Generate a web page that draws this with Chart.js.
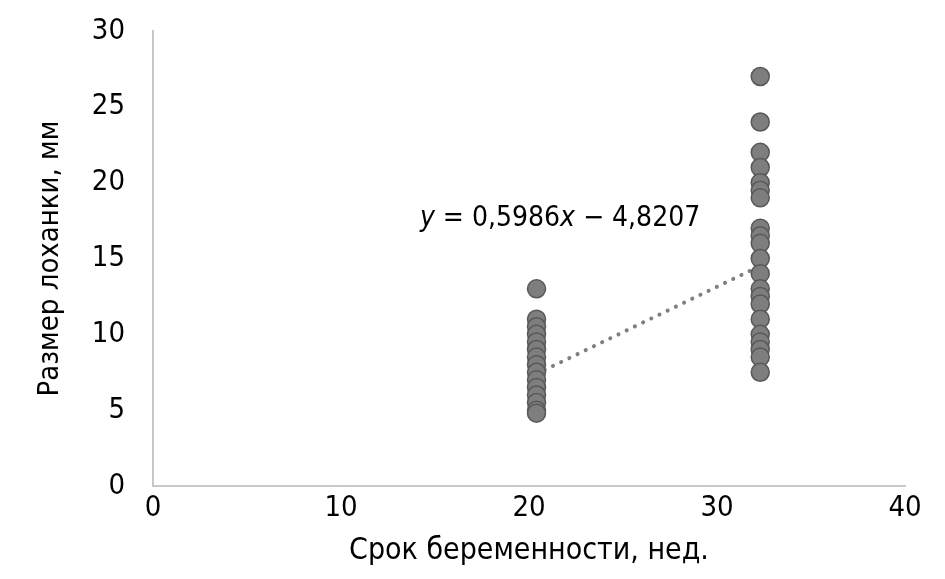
<!DOCTYPE html>
<html>
<head>
<meta charset="utf-8">
<script src="https://cdn.jsdelivr.net/npm/chart.js@4/dist/chart.umd.min.js"></script>
<style>
html,body{margin:0;padding:0;background:#fff;}
#wrap{width:945px;height:579px;position:relative;}
</style>
</head>
<body>
<div id="wrap"><canvas id="c" width="945" height="579"></canvas></div>
<script>
// Data
const weekGroupA = 20.4;
const sizesA = [13, 11, 10.5, 10, 9.5, 9, 8.5, 8, 7.5, 7, 6.5, 6, 5.5, 5, 4.8];
const weekGroupB = 32.3;
const sizesB = [27, 24, 22, 21, 20, 19.5, 19, 17, 16.5, 16, 15, 14, 13, 12.5, 12, 11, 10, 9.5, 9, 8.5, 7.5];
const trendSlope = 0.5986;
const trendIntercept = -4.8207;
const equationText = ['y', ' = 0,5986', 'x', ' \u2212 4,8207'];
const xTitle = 'Срок беременности, нед.';
const yTitle = 'Размер лоханки, мм';
const xTicks = [0, 10, 20, 30, 40];
const yTicks = [0, 5, 10, 15, 20, 25, 30];

const FONT = "'DejaVu Sans Condensed', 'Liberation Sans Narrow', sans-serif";

const points = sizesA.map(v => ({x: weekGroupA, y: v})).concat(sizesB.map(v => ({x: weekGroupB, y: v})));
const xs = points.map(p => p.x);
const xMin = Math.min(...xs), xMax = Math.max(...xs);
const trend = [{x: xMin, y: trendSlope * xMin + trendIntercept}, {x: xMax, y: trendSlope * xMax + trendIntercept}];

const eqPlugin = {
  id: 'eq',
  afterDatasetsDraw(chart) {
    const ctx = chart.ctx;
    const xs = chart.scales.x, ys = chart.scales.y;
    let x = xs.getPixelForValue(14.2);
    const y = ys.getPixelForValue(17.65);
    ctx.save();
    ctx.fillStyle = '#000';
    ctx.textBaseline = 'middle';
    ctx.textAlign = 'left';
    equationText.forEach((seg, i) => {
      ctx.font = (i % 2 === 0 ? 'italic ' : '') + '28px ' + FONT;
      ctx.fillText(seg, x, y);
      x += ctx.measureText(seg).width;
    });
    ctx.restore();
  }
};

new Chart(document.getElementById('c'), {
  type: 'scatter',
  data: {
    datasets: [
      {
        label: 'points',
        data: points,
        backgroundColor: '#7e7e7e',
        borderColor: '#585858',
        borderWidth: 1.5,
        pointRadius: 9,
        order: 0
      },
      {
        label: 'trend',
        type: 'line',
        data: trend,
        borderColor: '#7f7f7f',
        borderWidth: 4,
        borderDash: [0.1, 9],
        borderCapStyle: 'round',
        pointRadius: 0,
        fill: false,
        order: 1
      }
    ]
  },
  options: {
    responsive: false,
    animation: false,
    layout: {padding: {left: 0, right: 40, top: 31, bottom: 0}},
    plugins: {legend: {display: false}, tooltip: {enabled: false}},
    scales: {
      x: {
        type: 'linear',
        min: 0, max: 40,
        afterBuildTicks(s) { s.ticks = xTicks.map(v => ({value: v})); },
        afterFit(s) { s.height = 93; s.paddingLeft = 0; s.paddingRight = 0; },
        grid: {display: false},
        border: {display: true, color: '#c8c8c8', width: 2},
        ticks: {color: '#000', font: {family: FONT, size: 29}, padding: -3, maxRotation: 0},
        title: {display: true, text: xTitle, color: '#000', font: {family: FONT, size: 30}, padding: {top: 0, bottom: 10}}
      },
      y: {
        type: 'linear',
        min: 0, max: 30,
        afterBuildTicks(s) { s.ticks = yTicks.map(v => ({value: v})); },
        afterFit(s) { s.width = 153; s.paddingTop = 0; s.paddingBottom = 0; },
        grid: {display: false},
        border: {display: true, color: '#c8c8c8', width: 2},
        ticks: {color: '#000', font: {family: FONT, size: 29}, padding: 20},
        title: {display: true, text: yTitle, color: '#000', font: {family: FONT, size: 29}, padding: {top: 33, bottom: 0}}
      }
    }
  },
  plugins: [eqPlugin]
});
</script>
</body>
</html>
